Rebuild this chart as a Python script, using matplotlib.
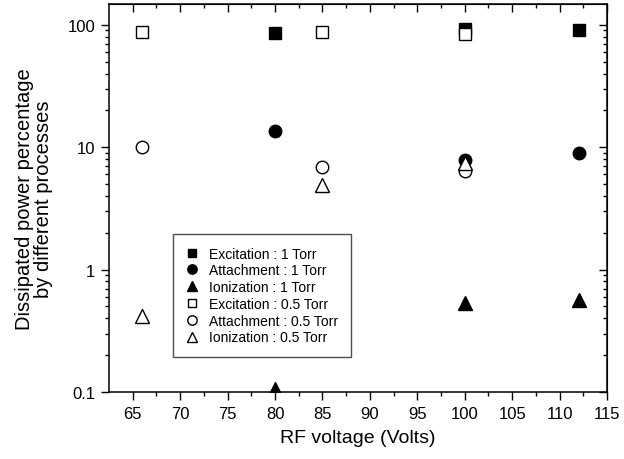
import matplotlib
matplotlib.use("Agg")
import matplotlib.pyplot as plt
from matplotlib.ticker import FixedLocator, LogLocator, NullFormatter, FuncFormatter

plt.rcParams["font.family"] = ["Liberation Sans", "DejaVu Sans"]

# data
voltage_1torr = [80, 100, 112]
excitation_1torr = [86, 93, 90]
attachment_1torr = [13.5, 7.9, 9.0]
ionization_1torr = [0.105, 0.535, 0.56]

voltage_05torr = [66, 85, 100]
excitation_05torr = [88, 88, 84]
attachment_05torr = [10.0, 6.9, 6.4]
ionization_05torr = [0.42, 4.9, 7.4]

x_ticks = [65, 70, 75, 80, 85, 90, 95, 100, 105, 110, 115]
y_ticks = [0.1, 1, 10, 100]

fig = plt.figure(figsize=(6.24, 4.6), dpi=100)
ax = fig.add_axes([0.1747, 0.1457, 0.7981, 0.8435])

ax.plot(voltage_1torr, excitation_1torr, "s", color="black", ms=8, label="Excitation : 1 Torr")
ax.plot(voltage_1torr, attachment_1torr, "o", color="black", ms=9, label="Attachment : 1 Torr")
ax.plot(voltage_1torr, ionization_1torr, "^", color="black", ms=10, label="Ionization : 1 Torr")
ax.plot(voltage_05torr, excitation_05torr, "s", mfc="white", mec="black", mew=1.0, ms=8,
        label="Excitation : 0.5 Torr")
ax.plot(voltage_05torr, attachment_05torr, "o", mfc="white", mec="black", mew=1.0, ms=9,
        label="Attachment : 0.5 Torr")
ax.plot(voltage_05torr, ionization_05torr, "^", mfc="white", mec="black", mew=1.0, ms=10,
        label="Ionization : 0.5 Torr")

ax.set_yscale("log")
ax.set_xlim(62.5, 115)
ax.set_ylim(0.1, 148)

minor_x = [67.5 + 5 * i for i in range(10)]
ax.xaxis.set_major_locator(FixedLocator(x_ticks))
ax.xaxis.set_minor_locator(FixedLocator(minor_x))
ax.yaxis.set_major_locator(FixedLocator(y_ticks))
ax.yaxis.set_minor_locator(LogLocator(base=10, subs=range(2, 10)))
ax.yaxis.set_major_formatter(FuncFormatter(lambda v, p: f"{v:g}"))
ax.yaxis.set_minor_formatter(NullFormatter())

ax.tick_params(which="major", direction="out", length=6, width=1, labelsize=12, pad=4)
ax.tick_params(which="minor", direction="out", length=3, width=1)
for s in ax.spines.values():
    s.set_linewidth(1.1)

# mirrored ticks pointing inwards on top and right
top = ax.secondary_xaxis("top")
top.xaxis.set_major_locator(FixedLocator(x_ticks))
top.xaxis.set_minor_locator(FixedLocator(minor_x))
top.tick_params(which="major", direction="in", length=6, width=1, labeltop=False)
top.tick_params(which="minor", direction="in", length=3, width=1)
right = ax.secondary_yaxis("right")
right.yaxis.set_major_locator(FixedLocator(y_ticks))
right.yaxis.set_minor_locator(LogLocator(base=10, subs=range(2, 10)))
right.yaxis.set_minor_formatter(NullFormatter())
right.tick_params(which="major", direction="in", length=6, width=1, labelright=False)
right.tick_params(which="minor", direction="in", length=3, width=1)

ax.set_xlabel("RF voltage (Volts)", fontsize=14, labelpad=6)
ax.set_ylabel("Dissipated power percentage\nby different processes", fontsize=14.5,
              linespacing=1.05, labelpad=10)

leg = ax.legend(loc="upper left", bbox_to_anchor=(0.1285, 0.407), borderaxespad=0,
                fontsize=10, markerscale=0.75, handlelength=1.0, handletextpad=0.7,
                labelspacing=0.2, borderpad=0.9, fancybox=False, frameon=True)
leg.get_frame().set_edgecolor("#222222")
leg.get_frame().set_linewidth(1.0)

fig.savefig("out.png", dpi=100)
